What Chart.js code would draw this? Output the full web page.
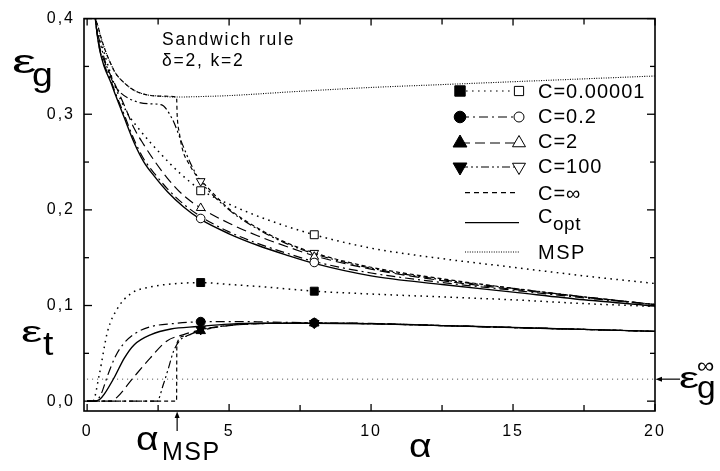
<!DOCTYPE html>
<html><head><meta charset="utf-8">
<script src="https://cdn.jsdelivr.net/npm/chart.js@4.4.1/dist/chart.umd.min.js"></script>
<style>html,body{margin:0;padding:0;background:#fff}#wrap{width:720px;height:471px;position:relative}</style>
</head><body><div id="wrap"><canvas id="c" width="720" height="471"></canvas></div>
<script>
// ---- axis ticks ----
const xTicks = [0, 5, 10, 15, 20];
const xMinor = [2.5, 7.5, 12.5, 17.5];
const yTicks = [0, 0.1, 0.2, 0.3, 0.4];
const yMinor = [0.05, 0.15, 0.25, 0.35];

// ---- generalization error eps_g ----
const gMspX = [0.1, 0.25, 0.4, 0.6, 0.8, 1.0, 1.3, 1.6, 2.0, 2.5, 3.15, 4, 5, 7.5, 10, 12.5, 15, 17.5, 20];
const gMspY = [0.47, 0.41, 0.39, 0.37, 0.355, 0.343, 0.333, 0.326, 0.321, 0.319, 0.318, 0.3185, 0.3195, 0.324, 0.328, 0.331, 0.334, 0.337, 0.340];

const gInfX = [0.1, 0.25, 0.4, 0.6, 0.8, 1.0, 1.3, 1.6, 2.0, 2.5, 3.15, 3.17, 3.25, 3.37, 3.57, 3.87, 4, 5, 6, 7, 8, 10, 12.5, 15, 17.5, 20];
const gInfY = [0.47, 0.41, 0.39, 0.37, 0.355, 0.343, 0.333, 0.326, 0.321, 0.319, 0.318, 0.300, 0.28, 0.262, 0.249, 0.235, 0.231, 0.201, 0.181, 0.166, 0.155, 0.14, 0.128, 0.118, 0.109, 0.101];

const gOptX = [0.1, 0.29, 0.43, 0.6, 0.84, 1.0, 1.3, 1.66, 2.0, 2.4, 2.83, 3.4, 4, 5, 6, 7, 8, 10, 12.5, 15, 17.5, 20];
const gOptY = [0.47, 0.40, 0.369, 0.35, 0.333, 0.32, 0.297, 0.27, 0.25, 0.234, 0.219, 0.203, 0.19, 0.175, 0.163, 0.153, 0.144, 0.131, 0.122, 0.114, 0.106, 0.0995];

const gC02X = gOptX;
const gC02Y = [0.47, 0.40, 0.37, 0.352, 0.335, 0.322, 0.3, 0.273, 0.253, 0.237, 0.222, 0.206, 0.193, 0.177, 0.165, 0.155, 0.146, 0.134, 0.124, 0.116, 0.108, 0.101];

const gC2X = gOptX;
const gC2Y = [0.47, 0.40, 0.372, 0.356, 0.34, 0.33, 0.31, 0.285, 0.268, 0.25, 0.233, 0.215, 0.202, 0.186, 0.173, 0.162, 0.152, 0.138, 0.126, 0.117, 0.109, 0.101];

const gC5X = [0.1, 0.29, 0.5, 0.8, 1.0, 1.4, 1.87, 2.58, 3.28, 4, 5.15, 6.32, 8, 10, 12.5, 15, 17.5, 20];
const gC5Y = [0.47, 0.40, 0.375, 0.345, 0.328, 0.302, 0.283, 0.259, 0.238, 0.221, 0.204, 0.19, 0.174, 0.16, 0.149, 0.14, 0.131, 0.123];

const gC100X = [0.1, 0.29, 0.5, 0.84, 1.1, 1.5, 2.13, 2.6, 3.0, 3.35, 3.7, 4, 5, 6, 7, 8, 10, 12.5, 15, 17.5, 20];
const gC100Y = [0.47, 0.40, 0.37, 0.338, 0.325, 0.316, 0.311, 0.31, 0.295, 0.269, 0.245, 0.23, 0.2, 0.18, 0.165, 0.154, 0.139, 0.127, 0.118, 0.109, 0.101];

// ---- training error eps_t ----
const tC5X = [0, 0.2, 0.43, 0.72, 1.07, 1.55, 2.25, 3.18, 4, 5, 6, 7, 8, 10, 12.5, 15, 17.5, 20];
const tC5Y = [0, 0, 0.028, 0.073, 0.097, 0.1126, 0.1195, 0.123, 0.124, 0.122, 0.12, 0.1175, 0.115, 0.112, 0.109, 0.106, 0.102, 0.099];

const tC02X = [0, 0.3, 0.5, 0.7, 1.0, 1.31, 1.7, 2.25, 3, 4, 5, 6, 8, 10, 12.5, 15, 17.5, 20];
const tC02Y = [0, 0, 0.008, 0.025, 0.047, 0.061, 0.071, 0.078, 0.081, 0.083, 0.0832, 0.083, 0.0818, 0.0813, 0.079, 0.077, 0.075, 0.073];

const tOptX = [0, 0.26, 0.45, 0.61, 0.96, 1.31, 1.66, 2.25, 2.95, 3.89, 5, 6, 8, 10, 12.5, 15, 17.5, 20];
const tOptY = [0, 0, 0.002, 0.0076, 0.025, 0.045, 0.059, 0.0696, 0.0755, 0.078, 0.0805, 0.0815, 0.0815, 0.081, 0.079, 0.077, 0.075, 0.073];

const tC2X = [0, 0.85, 1.05, 1.64, 2.22, 2.81, 3.4, 4, 5, 6, 8, 10, 12.5, 15, 17.5, 20];
const tC2Y = [0, 0, 0.004, 0.025, 0.045, 0.063, 0.0696, 0.0745, 0.079, 0.081, 0.0815, 0.081, 0.079, 0.077, 0.075, 0.073];

const tC100X = [0, 2.46, 2.69, 2.87, 3.04, 3.28, 3.63, 4, 5, 6, 8, 10, 12.5, 15, 17.5, 20];
const tC100Y = [0, 0, 0.018, 0.035, 0.052, 0.064, 0.0696, 0.0745, 0.079, 0.081, 0.0815, 0.081, 0.079, 0.077, 0.075, 0.073];

const tInfX = [0, 3.15, 3.16, 3.42, 3.9, 4.5, 5, 6, 8, 10, 12.5, 15, 17.5, 20];
const tInfY = [0, 0, 0.06, 0.068, 0.073, 0.077, 0.0795, 0.0812, 0.0815, 0.081, 0.079, 0.077, 0.075, 0.073];

// asymptotic eps_g (dotted horizontal)
const gAsymX = [0, 20];
const gAsymY = [0.023, 0.023];

// ---- simulation markers ----
const markerAlpha = [4, 8];
const sqT = [0.124, 0.115], sqG = [0.22, 0.174];
const ciT = [0.083, 0.0818], ciG = [0.191, 0.145];
const trT = [0.0735, 0.0815], trG = [0.202, 0.151];
const tdT = [0.075, 0.0815], tdG = [0.23, 0.155];

const legendLabels = ['C=0.00001', 'C=0.2', 'C=2', 'C=100', 'C=\u221E', 'C', 'MSP'];
const alphaMsp = 3.17;

const DOT = [1.6, 4.4], DASHDOT = [9, 4, 2, 4], DASH = [10, 5], DASHDOTDOT = [8, 3, 2, 3, 2, 3], SHORT = [4, 3], FINE = [1, 1.4];

const pts = (xs, ys) => xs.map((x, i) => ({x: x, y: ys[i]}));
function lineDs(xs, ys, dash, w, col) {
  return { data: pts(xs, ys), showLine: true, borderColor: col || '#000', borderWidth: w || 1.2, borderDash: dash || [],
    pointRadius: 0, pointHoverRadius: 0, fill: false, cubicInterpolationMode: 'monotone', order: 2 };
}
function markDs(ys, style, filled, r, rot) {
  return { data: pts(markerAlpha, ys), showLine: false, pointStyle: style, pointRadius: r, pointHoverRadius: r,
    pointRotation: rot || 0, pointBackgroundColor: filled ? '#000' : '#fff', pointBorderColor: '#000', pointBorderWidth: 1, order: 1 };
}

const datasets = [
  lineDs(gAsymX, gAsymY, [1, 4], 1, '#444'),
  lineDs(gMspX, gMspY, FINE, 1.1),
  lineDs(gInfX, gInfY, SHORT, 1.2),
  lineDs(gOptX, gOptY, [], 1.4),
  lineDs(gC02X, gC02Y, DASHDOT, 1.2),
  lineDs(gC2X, gC2Y, DASH, 1.2),
  lineDs(gC5X, gC5Y, DOT, 1.5),
  lineDs(gC100X, gC100Y, DASHDOTDOT, 1.2),
  lineDs(tC5X, tC5Y, DOT, 1.5),
  lineDs(tC02X, tC02Y, DASHDOT, 1.2),
  lineDs(tOptX, tOptY, [], 1.4),
  lineDs(tC2X, tC2Y, DASH, 1.2),
  lineDs(tC100X, tC100Y, DASHDOTDOT, 1.2),
  lineDs(tInfX, tInfY, SHORT, 1.2),
  markDs(sqG, 'rect', false, 5.6),
  markDs(ciG, 'circle', false, 4.3),
  markDs(trG, 'triangle', false, 5),
  markDs(tdG, 'triangle', false, 5, 180),
  markDs(sqT, 'rect', true, 5.6),
  markDs(ciT, 'circle', true, 4.5),
  markDs(trT, 'triangle', true, 5.5),
  markDs(tdT, 'triangle', true, 5.5, 180)
];

const FONT = '"Liberation Sans", Arial, Helvetica, sans-serif';
function txt(ctx, s, x, y, size, ls, sx) {
  ctx.save();
  ctx.font = size + 'px ' + FONT;
  ctx.letterSpacing = (ls || 0) + 'px';
  ctx.fillStyle = '#000';
  ctx.textBaseline = 'alphabetic';
  ctx.textAlign = 'left';
  ctx.translate(x, y);
  ctx.scale(sx || 1, 1);
  ctx.fillText(s, 0, 0);
  ctx.restore();
}
function mark(ctx, style, x, y, r, filled) {
  ctx.save();
  ctx.beginPath();
  if (style === 'rect') { const s = r; ctx.rect(x - s, y - s, 2 * s, 2 * s); }
  else if (style === 'circle') ctx.arc(x, y, r, 0, 2 * Math.PI);
  else if (style === 'tri') { ctx.moveTo(x, y - r); ctx.lineTo(x + r * 0.866, y + r / 2); ctx.lineTo(x - r * 0.866, y + r / 2); ctx.closePath(); }
  else { ctx.moveTo(x, y + r); ctx.lineTo(x + r * 0.866, y - r / 2); ctx.lineTo(x - r * 0.866, y - r / 2); ctx.closePath(); }
  ctx.setLineDash([]);
  ctx.fillStyle = filled ? '#000' : '#fff';
  ctx.fill();
  ctx.lineWidth = 1; ctx.strokeStyle = '#000'; ctx.stroke();
  ctx.restore();
}
function seg(ctx, x1, y1, x2, y2, dash, w) {
  ctx.save(); ctx.beginPath(); ctx.setLineDash(dash || []); ctx.lineWidth = w || 1.2; ctx.strokeStyle = '#000';
  ctx.moveTo(x1, y1); ctx.lineTo(x2, y2); ctx.stroke(); ctx.restore();
}

const deco = {
  id: 'deco',
  beforeDraw(chart) { chart.ctx.letterSpacing = '2px'; },
  afterDraw(chart) {
    const ctx = chart.ctx, a = chart.chartArea, xs = chart.scales.x, ys = chart.scales.y;
    ctx.save();
    ctx.letterSpacing = '0px';
    // frame
    ctx.lineWidth = 1.6; ctx.strokeStyle = '#000'; ctx.setLineDash([]);
    ctx.strokeRect(a.left, a.top, a.right - a.left, a.bottom - a.top);
    // inward ticks
    const tk = (vals, len) => {
      vals.forEach(v => {
        const px = xs.getPixelForValue(v);
        seg(ctx, px, a.bottom, px, a.bottom - len, [], 1.3);
        seg(ctx, px, a.top, px, a.top + len, [], 1.3);
      });
    };
    const tky = (vals, len) => {
      vals.forEach(v => {
        const py = ys.getPixelForValue(v);
        seg(ctx, a.left, py, a.left + len, py, [], 1.3);
        seg(ctx, a.right, py, a.right - len, py, [], 1.3);
      });
    };
    tk(xTicks, 7); tk(xMinor, 6); tky(yTicks, 8); tky(yMinor, 5);

    // annotation text
    txt(ctx, 'Sandwich rule', 162, 44.5, 17.5, 1.8);
    txt(ctx, '\u03B4=2, k=2', 162, 65.5, 17.5, 1.8);
    // axis symbols
    txt(ctx, '\u03B5', 12, 72.5, 34, 0, 1.6);
    txt(ctx, 'g', 32, 86, 34, 0, 1.1);
    txt(ctx, '\u03B5', 21, 342, 30, 0, 1.6);
    txt(ctx, 't', 43, 355, 34, 0, 1.1);
    txt(ctx, '\u03B1', 409, 457, 34, 0, 1.15);
    txt(ctx, '\u03B1', 136, 450, 34, 0, 1.15);
    txt(ctx, 'MSP', 162, 460, 25, 1.5);
    txt(ctx, '\u03B5', 679, 388, 30, 0, 1.5);
    txt(ctx, '\u221E', 697, 373, 22, 0, 1.1);
    txt(ctx, 'g', 697, 398, 32, 0, 1.05);

    // alpha_MSP arrow
    const axm = xs.getPixelForValue(alphaMsp);
    seg(ctx, axm, 431, axm, 416, [], 1.2);
    ctx.beginPath(); ctx.moveTo(axm, a.bottom + 0.5); ctx.lineTo(axm - 2.5, a.bottom + 7); ctx.lineTo(axm + 2.5, a.bottom + 7); ctx.closePath(); ctx.fillStyle = '#000'; ctx.fill();
    // eps_g^inf arrow
    const ya = ys.getPixelForValue(gAsymY[0]);
    seg(ctx, a.right + 6, ya, 680, ya, [], 1.2);
    ctx.beginPath(); ctx.moveTo(a.right + 0.5, ya); ctx.lineTo(a.right + 7, ya - 2.5); ctx.lineTo(a.right + 7, ya + 2.5); ctx.closePath(); ctx.fill();

    // legend
    const L1 = 460, L2 = 519, TX = 538;
    const rows = [
      {y: 91, base: 97.5, dash: DOT, st: 'rect', r: 5.2, r2: 4.6},
      {y: 117, base: 123, dash: DASHDOT, st: 'circle', r: 5.8, r2: 5},
      {y: 143, base: 148, dash: DASH, st: 'tri', r: 8, r2: 7.5},
      {y: 167, base: 173, dash: DASHDOTDOT, st: 'tdown', r: 8, r2: 7.5}
    ];
    rows.forEach((rw, i) => {
      seg(ctx, L1, rw.y, L2, rw.y, rw.dash, 1.2);
      mark(ctx, rw.st, L1, rw.y, rw.r, true);
      mark(ctx, rw.st, L2, rw.y, rw.r2, false);
      txt(ctx, legendLabels[i], TX, rw.base, 20, 1);
    });
    seg(ctx, 465, 192.7, 519, 192.7, [5, 4], 1.2);
    txt(ctx, legendLabels[4], TX, 200, 20, 1);
    seg(ctx, 465, 222.7, 519, 222.7, [], 1.3);
    txt(ctx, legendLabels[5], TX, 222.7, 20, 1);
    txt(ctx, 'opt', 553, 230, 19, 0.5);
    seg(ctx, 465, 252, 520, 252, FINE, 1.1);
    txt(ctx, legendLabels[6], TX, 259, 20, 1.5);
    ctx.restore();
  }
};

new Chart(document.getElementById('c').getContext('2d'), {
  type: 'scatter',
  data: { datasets: datasets },
  options: {
    responsive: false, animation: false, devicePixelRatio: 1,
    layout: { padding: { left: 0, top: 13, right: 65, bottom: 0 } },
    plugins: { legend: { display: false }, tooltip: { enabled: false } },
    scales: {
      x: {
        type: 'linear', min: -0.11, max: 20,
        afterBuildTicks: s => { s.ticks = xTicks.map(v => ({value: v})); },
        afterFit: s => { s.height = 60; },
        grid: { display: false, drawTicks: false }, border: { display: false },
        ticks: { color: '#000', padding: 11, maxRotation: 0, autoSkip: false, font: { family: FONT, size: 16 }, callback: v => String(v) }
      },
      y: {
        type: 'linear', min: -0.0103, max: 0.4,
        afterBuildTicks: s => { s.ticks = yTicks.map(v => ({value: v})); },
        afterFit: s => { s.width = 84; },
        grid: { display: false, drawTicks: false }, border: { display: false },
        ticks: { color: '#000', padding: 9, autoSkip: false, font: { family: FONT, size: 16 }, callback: v => v.toFixed(1).replace('.', ',') }
      }
    }
  },
  plugins: [deco]
});
</script></body></html>
